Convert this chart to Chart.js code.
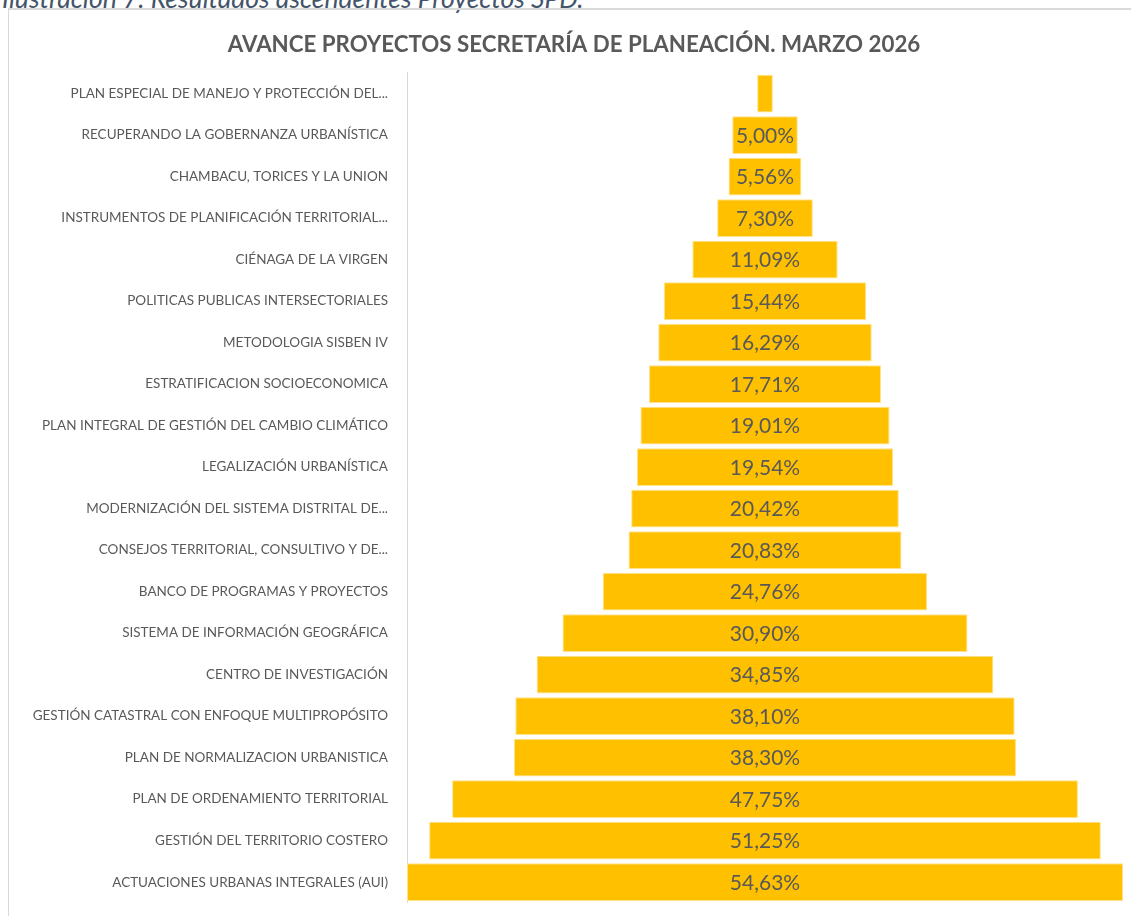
<!DOCTYPE html>
<html>
<head>
<meta charset="utf-8">
<script src="https://cdn.jsdelivr.net/npm/chart.js@4.4.1/dist/chart.umd.min.js"></script>
<style>
  html, body { margin: 0; padding: 0; background: #fff; overflow: hidden; }
  body { width: 1131px; height: 916px; position: relative; }
  .caption {
    position: absolute; left: 2px; top: -15px;
    font: italic 26.5px/26px Lato, "Open Sans", sans-serif; color: #44546A;
    white-space: nowrap;
  }
  .frame {
    position: absolute; left: 8px; top: 8px; right: -10px; bottom: -10px;
    border-left: 1px solid #d9d9d9; border-top: 2px solid #dadada;
  }
  #myChart { position: absolute; left: 0; top: 0; }
</style>
</head>
<body>
<div class="caption">Ilustración 7. Resultados ascendentes Proyectos SPD.</div>
<div class="frame"></div>
<canvas id="myChart" width="1131" height="930"></canvas>
<script>
/* data */
var projects = [
  'PLAN ESPECIAL DE MANEJO Y PROTECCIÓN DEL...',
  'RECUPERANDO LA GOBERNANZA URBANÍSTICA',
  'CHAMBACU, TORICES Y LA UNION',
  'INSTRUMENTOS DE PLANIFICACIÓN TERRITORIAL...',
  'CIÉNAGA DE LA VIRGEN',
  'POLITICAS PUBLICAS INTERSECTORIALES',
  'METODOLOGIA SISBEN IV',
  'ESTRATIFICACION SOCIOECONOMICA',
  'PLAN INTEGRAL DE GESTIÓN DEL CAMBIO CLIMÁTICO',
  'LEGALIZACIÓN URBANÍSTICA',
  'MODERNIZACIÓN DEL SISTEMA DISTRITAL DE...',
  'CONSEJOS TERRITORIAL, CONSULTIVO Y DE...',
  'BANCO DE PROGRAMAS Y PROYECTOS',
  'SISTEMA DE INFORMACIÓN GEOGRÁFICA',
  'CENTRO DE INVESTIGACIÓN',
  'GESTIÓN CATASTRAL CON ENFOQUE MULTIPROPÓSITO',
  'PLAN DE NORMALIZACION URBANISTICA',
  'PLAN DE ORDENAMIENTO TERRITORIAL',
  'GESTIÓN DEL TERRITORIO COSTERO',
  'ACTUACIONES URBANAS INTEGRALES (AUI)'
];
var avance = [1.2, 5.00, 5.56, 7.30, 11.09, 15.44, 16.29, 17.71, 19.01, 19.54,
  20.42, 20.83, 24.76, 30.90, 34.85, 38.10, 38.30, 47.75, 51.25, 54.63];

var chartTitle = 'AVANCE PROYECTOS SECRETARÍA DE PLANEACIÓN. MARZO 2026';

var maxVal = Math.max.apply(null, avance);
// each bar centred on zero, like a funnel
var funnel = avance.map(function (v) { return [-v / 2, v / 2]; });

/* labels inside bars */
var barLabels = {
  id: 'barLabels',
  afterDatasetsDraw: function (chart) {
    var c = chart.ctx;
    c.save();
    c.font = '21px Lato, "Open Sans", sans-serif';
    c.fillStyle = '#595959';
    c.textAlign = 'center';
    c.textBaseline = 'middle';
    chart.getDatasetMeta(0).data.forEach(function (bar, i) {
      var txt = avance[i].toFixed(2).replace('.', ',') + '%';
      var w = Math.abs(bar.x - bar.base);
      if (c.measureText(txt).width + 4 > w) return;
      c.fillText(txt, (bar.x + bar.base) / 2, bar.y + 1);
    });
    c.restore();
  }
};

var ctx = document.getElementById('myChart').getContext('2d');
new Chart(ctx, {
  type: 'bar',
  data: {
    labels: projects,
    datasets: [{
      data: funnel,
      backgroundColor: '#FFC000',
      borderColor: '#FFE38A',
      borderWidth: 1,
      borderSkipped: false,
      barPercentage: 0.91,
      categoryPercentage: 1
    }]
  },
  options: {
    indexAxis: 'y',
    responsive: false,
    animation: false,
    layout: { padding: { left: 25, right: 8, bottom: 0 } },
    plugins: {
      legend: { display: false },
      tooltip: { enabled: false },
      title: {
        display: true,
        text: chartTitle,
        color: '#595959',
        font: { family: 'Lato, "Open Sans", sans-serif', size: 22.3, weight: 'bold' },
        padding: { top: 31, bottom: 15 }
      }
    },
    scales: {
      x: {
        display: false,
        min: -maxVal / 2,
        max: maxVal / 2
      },
      y: {
        grid: { display: false, drawTicks: false },
        border: { display: true, color: '#d9d9d9' },
        ticks: {
          color: '#595959',
          padding: 19,
          font: { family: 'Lato, "Open Sans", sans-serif', size: 13.5 }
        },
        afterFit: function (scale) { scale.width = 382; }
      }
    }
  },
  plugins: [barLabels]
});
</script>
</body>
</html>
